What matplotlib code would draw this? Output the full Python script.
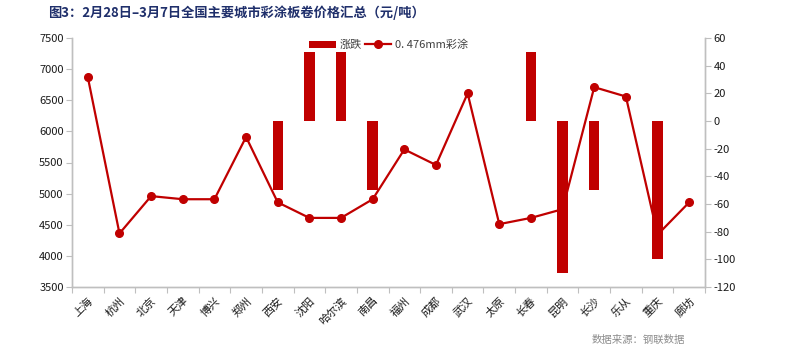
import matplotlib
matplotlib.use("Agg")
import matplotlib.pyplot as plt
import numpy as np

plt.rcParams['font.family'] = ['Noto Sans CJK SC', 'DejaVu Sans']
plt.rcParams['axes.unicode_minus'] = False

cities = ["上海", "杭州", "北京", "天津", "博兴", "郑州", "西安", "沈阳", "哈尔滨", "南昌",
          "福州", "成都", "武汉", "太原", "长春", "昆明", "长沙", "乐从", "重庆", "廊坊"]
prices = [6870, 4360, 4960, 4910, 4910, 5910, 4860, 4610, 4610, 4910,
          5710, 5460, 6610, 4510, 4610, 4750, 6710, 6560, 4340, 4860]
changes = [0, 0, 0, 0, 0, 0, -50, 50, 50, -50,
           0, 0, 0, 0, 50, -110, -50, 0, -100, 0]
left_ticks = [3500, 4000, 4500, 5000, 5500, 6000, 6500, 7000, 7500]
right_ticks = [-120, -100, -80, -60, -40, -20, 0, 20, 40, 60]

red = "#C00000"
grey = "#BFBFBF"
text_color = "#1a1a1a"

fig = plt.figure(figsize=(7.86, 3.52), dpi=100)
ax = fig.add_axes([72 / 786, 1 - 287 / 352, (705 - 72) / 786, (287 - 38) / 352])
ax2 = ax.twinx()

x = np.arange(len(cities))

# price line on the left axis
ax.plot(x, prices, color=red, lw=1.6, marker="o", ms=5.5, zorder=2,
        label="0. 476mm彩涂")
ax.set_ylim(3500, 7500)
ax.set_yticks(left_ticks)
ax.set_xlim(-0.5, len(cities) - 0.5)
ax.set_xticks(np.arange(len(cities) + 1) - 0.5, minor=False)
ax.set_xticklabels([])
ax.set_xticks(x, minor=True)
ax.set_xticklabels(cities, minor=True, rotation=45, ha="right", va="top",
                   rotation_mode="anchor", fontsize=8, color=text_color)
ax.tick_params(axis="x", which="minor", length=0, pad=6)
ax.tick_params(axis="x", which="major", length=4, color=grey, direction="out")
ax.tick_params(axis="y", length=4, color=grey, labelsize=8, labelcolor=text_color, pad=2)

# weekly change bars on the right axis, drawn above the line
ax2.bar(x, changes, width=0.33, color=red, zorder=3, label="涨跌")
ax2.set_ylim(-120, 60)
ax2.set_yticks(right_ticks)
ax2.tick_params(axis="y", length=4, color=grey, labelsize=8, labelcolor=text_color, pad=2)

for a in (ax, ax2):
    a.spines["top"].set_visible(False)
    for s in ("left", "right", "bottom"):
        a.spines[s].set_color(grey)
        a.spines[s].set_linewidth(1.0)

h2, l2 = ax2.get_legend_handles_labels()
h1, l1 = ax.get_legend_handles_labels()
leg = ax2.legend(h2 + h1, l2 + l1, loc="center", bbox_to_anchor=(0.5, 0.972),
                 ncol=2, frameon=False, fontsize=8, handlelength=2.4,
                 handleheight=0.6, handletextpad=0.3, columnspacing=0.3,
                 borderaxespad=0)
for t in leg.get_texts():
    t.set_color("#404040")

fig.text(48 / 786, 1 - 13 / 352,
         "图3：2月28日–3月7日全国主要城市彩涂板卷价格汇总（元/吨）",
         fontsize=9.5, fontweight="bold", color="#1F2F6B", va="center", ha="left")
fig.text(592 / 786, 1 - 340 / 352, "数据来源：钢联数据", fontsize=7.5,
         color="#8c8c8c", va="center", ha="left")

fig.savefig("out.png", dpi=100)
